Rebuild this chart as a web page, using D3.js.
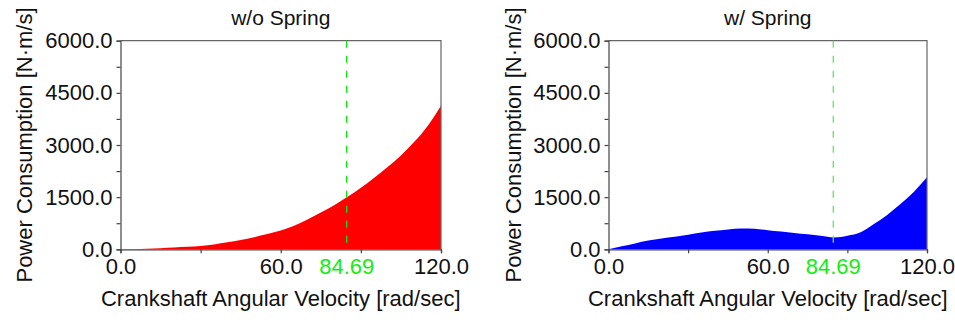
<!DOCTYPE html>
<html lang="en">
<head>
<meta charset="UTF-8">
<title>Power Consumption</title>
<script src="https://cdn.jsdelivr.net/npm/d3@7"></script>
<style>
  body { margin: 0; background: #fff; }
  svg text { font-family: "Liberation Sans", Arial, sans-serif; fill: #111; }
</style>
</head>
<body>
<svg id="chart" width="955" height="320"></svg>
<script>
// crankshaft angular velocity samples [rad/sec]
var omega = [0, 5, 10, 15, 20, 25, 30, 35, 40, 45, 50, 55, 60,
             65, 70, 75, 80, 85, 90, 95, 100, 105, 110, 115, 120];
// power consumption [N·m/s]
var powerNoSpring = [0, 5, 15, 30, 50, 70, 95, 140, 200, 270, 350, 440, 540,
                     680, 860, 1060, 1270, 1510, 1770, 2060, 2370, 2700, 3090, 3550, 4130];
var powerSpring = [0, 85, 170, 250, 310, 360, 420, 480, 530, 570, 600, 590, 550,
                   510, 470, 430, 390, 340, 390, 490, 730, 990, 1300, 1650, 2070];

var titles = ["w/o Spring", "w/ Spring"];
var fills = ["#ff0000", "#0000ff"];
var xMajor = [0, 60, 120];
var xMinor = [30, 90];
var yMajor = [0, 1500, 3000, 4500, 6000];
var yMinor = [750, 2250, 3750, 5250];
var markerOmega = 84.69;

var svg = d3.select("#chart");
var fmt = d3.format(".1f");

// plot boxes
var panels = [
    {x0: 120.5, x1: 441, y0: 40.7, y1: 249.3, labelX: 32, data: powerNoSpring},
    {x0: 608.5, x1: 927, y0: 40.7, y1: 249.3, labelX: 521, data: powerSpring}
];

panels.forEach(function (p, k) {
    var x = d3.scaleLinear().domain([0, 120]).range([p.x0, p.x1]);
    var y = d3.scaleLinear().domain([0, 6000]).range([p.y1, p.y0]);
    var g = svg.append("g");

    // filled curve
    var area = d3.area()
        .x(function (d, i) { return x(omega[i]); })
        .y0(y(0))
        .y1(function (d) { return y(d); })
        .curve(d3.curveMonotoneX);
    g.append("path")
        .datum(p.data)
        .attr("d", area)
        .attr("fill", fills[k]);

    // top and right frame
    g.append("path")
        .attr("d", "M" + p.x0 + "," + p.y0 + "H" + p.x1 + "V" + p.y1)
        .attr("fill", "none")
        .attr("stroke", "#666")
        .attr("stroke-width", 1.2);

    // operating point marker
    g.append("line")
        .attr("x1", x(markerOmega)).attr("x2", x(markerOmega))
        .attr("y1", p.y0).attr("y2", p.y1)
        .attr("stroke", k === 0 ? "#00ee00" : "#55ee55")
        .attr("stroke-width", 1.3)
        .attr("stroke-dasharray", "7,8");

    // x axis
    var xa = g.append("g")
        .attr("transform", "translate(0," + p.y1 + ")")
        .call(d3.axisBottom(x).tickValues(xMajor.concat(xMinor)).tickSize(4)
            .tickFormat(function (d) { return xMajor.indexOf(d) >= 0 ? fmt(d) : ""; }));
    xa.selectAll("text").style("font-size", "22px").attr("dy", "0.71em").attr("y", 9);

    g.append("text")
        .attr("x", x(markerOmega))
        .attr("y", p.y1 + 9)
        .attr("dy", "0.71em")
        .attr("text-anchor", "middle")
        .style("font-size", "22px")
        .style("fill", "#11ee11")
        .text(markerOmega.toFixed(2));

    // y axis
    var ya = g.append("g")
        .attr("transform", "translate(" + p.x0 + ",0)")
        .call(d3.axisLeft(y).tickValues(yMajor.concat(yMinor)).tickSize(4)
            .tickFormat(function (d) { return yMajor.indexOf(d) >= 0 ? fmt(d) : ""; }));
    ya.selectAll("text").style("font-size", "22px").attr("x", -8);

    g.selectAll(".domain, .tick line").attr("stroke", "#444").attr("stroke-width", 1.2);
    g.selectAll(".tick text").style("fill", "#111");

    // titles and axis labels
    g.append("text")
        .attr("x", (p.x0 + p.x1) / 2)
        .attr("y", 25)
        .attr("text-anchor", "middle")
        .style("font-size", "21px")
        .text(titles[k]);

    g.append("text")
        .attr("x", (p.x0 + p.x1) / 2)
        .attr("y", 306)
        .attr("text-anchor", "middle")
        .style("font-size", "22px")
        .text("Crankshaft Angular Velocity [rad/sec]");

    g.append("text")
        .attr("transform", "translate(" + p.labelX + "," + ((p.y0 + p.y1) / 2) + ") rotate(-90)")
        .attr("text-anchor", "middle")
        .style("font-size", "22px")
        .text("Power Consumption [N·m/s]");
});
</script>
</body>
</html>
